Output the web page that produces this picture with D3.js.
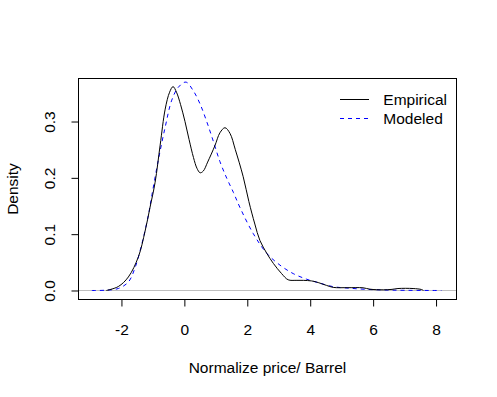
<!DOCTYPE html>
<html>
<head>
<meta charset="utf-8">
<script src="https://cdn.jsdelivr.net/npm/d3@7"></script>
<style>
  body { margin: 0; background: #fff; }
  svg { display: block; }
  text { font-family: "Liberation Sans", Arial, sans-serif; }
</style>
</head>
<body>
<div id="chart"></div>
<script>
// density curves (x = normalized price, y = density)
const empiricalX = [-2.48, -2.1, -1.78, -1.46, -1.25, -1.09, -0.93, -0.77, -0.61, -0.47, -0.36, -0.25, -0.12, 0.02, 0.15, 0.29, 0.4, 0.5, 0.6, 0.74, 0.97, 1.13, 1.29, 1.45, 1.62, 1.87, 2.05, 2.24, 2.4, 2.62, 2.83, 3.09, 3.3, 3.55, 3.78, 4.04, 4.2, 4.52, 4.73, 5.2, 5.68, 5.9, 6.32, 6.6, 6.79, 7.27, 7.54, 7.6];
const empiricalY = [0, 0.007, 0.024, 0.06, 0.105, 0.148, 0.192, 0.258, 0.322, 0.352, 0.362, 0.352, 0.33, 0.3, 0.268, 0.236, 0.217, 0.209, 0.212, 0.228, 0.257, 0.28, 0.289, 0.279, 0.25, 0.202, 0.158, 0.118, 0.089, 0.066, 0.048, 0.03, 0.019, 0.018, 0.018, 0.017, 0.015, 0.009, 0.0055, 0.005, 0.0048, 0.0023, 0.0012, 0.002, 0.0035, 0.0035, 0.0017, 0];

const modeledX = [-2.94, -2.5, -2.1, -1.78, -1.57, -1.35, -1.14, -1.03, -0.83, -0.61, -0.4, -0.19, 0.05, 0.29, 0.5, 0.71, 0.92, 1.13, 1.35, 1.56, 1.77, 2.19, 2.62, 3.04, 3.46, 3.89, 4.25, 4.73, 5.26, 5.79, 6.3, 7.0, 8.17];
const modeledY = [0, 0.0005, 0.0035, 0.015, 0.04, 0.083, 0.135, 0.17, 0.231, 0.29, 0.338, 0.361, 0.37, 0.354, 0.331, 0.3, 0.265, 0.229, 0.199, 0.174, 0.147, 0.101, 0.066, 0.045, 0.03, 0.02, 0.014, 0.0068, 0.004, 0.002, 0.001, 0.0003, 0];

const xTicks = [-2, 0, 2, 4, 6, 8];
const yTicks = [0, 0.1, 0.2, 0.3];
const legendLabels = ["Empirical", "Modeled"];

const width = 497, height = 397;
const plot = { left: 78.5, top: 78.5, right: 456.5, bottom: 299.5 };
const fontSize = "15.5px";

const svg = d3.select("#chart").append("svg")
    .attr("width", width)
    .attr("height", height);

svg.append("rect").attr("width", width).attr("height", height).attr("fill", "#fff");

const xScale = d3.scaleLinear().domain([-3.365, 8.65]).range([plot.left, plot.right]);
const yScale = d3.scaleLinear().domain([-0.016, 0.3764]).range([plot.bottom, plot.top]);

// zero reference line
svg.append("line")
    .attr("x1", plot.left).attr("x2", plot.right)
    .attr("y1", Math.round(yScale(0)) + 0.5).attr("y2", Math.round(yScale(0)) + 0.5)
    .attr("stroke", "#bebebe")
    .attr("stroke-width", 1);

const line = d3.line()
    .x(d => xScale(d[0]))
    .y(d => yScale(Math.max(0, d[1])))
    .curve(d3.curveCatmullRom.alpha(0.5));

svg.append("path")
    .datum(d3.zip(modeledX, modeledY))
    .attr("fill", "none")
    .attr("stroke", "#0000ff")
    .attr("stroke-width", 1)
    .attr("stroke-dasharray", "4,4")
    .attr("d", line);

svg.append("path")
    .datum(d3.zip(empiricalX, empiricalY))
    .attr("fill", "none")
    .attr("stroke", "#000")
    .attr("stroke-width", 1)
    .attr("d", line);

// plot box
svg.append("rect")
    .attr("x", plot.left).attr("y", plot.top)
    .attr("width", plot.right - plot.left)
    .attr("height", plot.bottom - plot.top)
    .attr("fill", "none")
    .attr("stroke", "#000");

// x axis
const xAxis = svg.append("g")
    .attr("transform", `translate(0,${plot.bottom})`)
    .call(d3.axisBottom(xScale).tickValues(xTicks).tickSize(7).tickSizeOuter(0).tickFormat(d3.format("d")));
xAxis.select(".domain").remove();
xAxis.selectAll("line").attr("stroke", "#000");
xAxis.selectAll("text")
    .attr("y", 35).attr("dy", null)
    .attr("fill", "#000")
    .style("font-size", fontSize)
    .style("font-family", "'Liberation Sans', Arial, sans-serif")
    .text(d => d < 0 ? "-" + Math.abs(d) : d);

// y axis
const yAxis = svg.append("g")
    .attr("transform", `translate(${plot.left},0)`)
    .call(d3.axisLeft(yScale).tickValues(yTicks).tickSize(7).tickSizeOuter(0).tickFormat(d3.format(".1f")));
yAxis.select(".domain").remove();
yAxis.selectAll("line").attr("stroke", "#000");
yAxis.selectAll("text")
    .attr("x", 0).attr("y", -23.2).attr("dy", null)
    .attr("transform", "rotate(-90)")
    .attr("text-anchor", "middle")
    .attr("fill", "#000")
    .style("font-size", fontSize)
    .style("font-family", "'Liberation Sans', Arial, sans-serif");

// axis titles
svg.append("text")
    .attr("x", (plot.left + plot.right) / 2)
    .attr("y", 372.5)
    .attr("text-anchor", "middle")
    .style("font-size", fontSize)
    .text("Normalize price/ Barrel");

svg.append("text")
    .attr("transform", `translate(17.5,${(plot.top + plot.bottom) / 2}) rotate(-90)`)
    .attr("text-anchor", "middle")
    .style("font-size", fontSize)
    .text("Density");

// legend
const legend = svg.append("g");
legendLabels.forEach((label, i) => {
    const y = 99.3 + i * 19;
    legend.append("line")
        .attr("x1", 340).attr("x2", 369)
        .attr("y1", Math.round(y) + 0.5).attr("y2", Math.round(y) + 0.5)
        .attr("stroke", i === 0 ? "#000" : "#0000ff")
        .attr("stroke-dasharray", i === 0 ? null : "4,4");
    legend.append("text")
        .attr("x", 383.3)
        .attr("y", y + 5.6)
        .style("font-size", fontSize)
        .text(label);
});
</script>
</body>
</html>
